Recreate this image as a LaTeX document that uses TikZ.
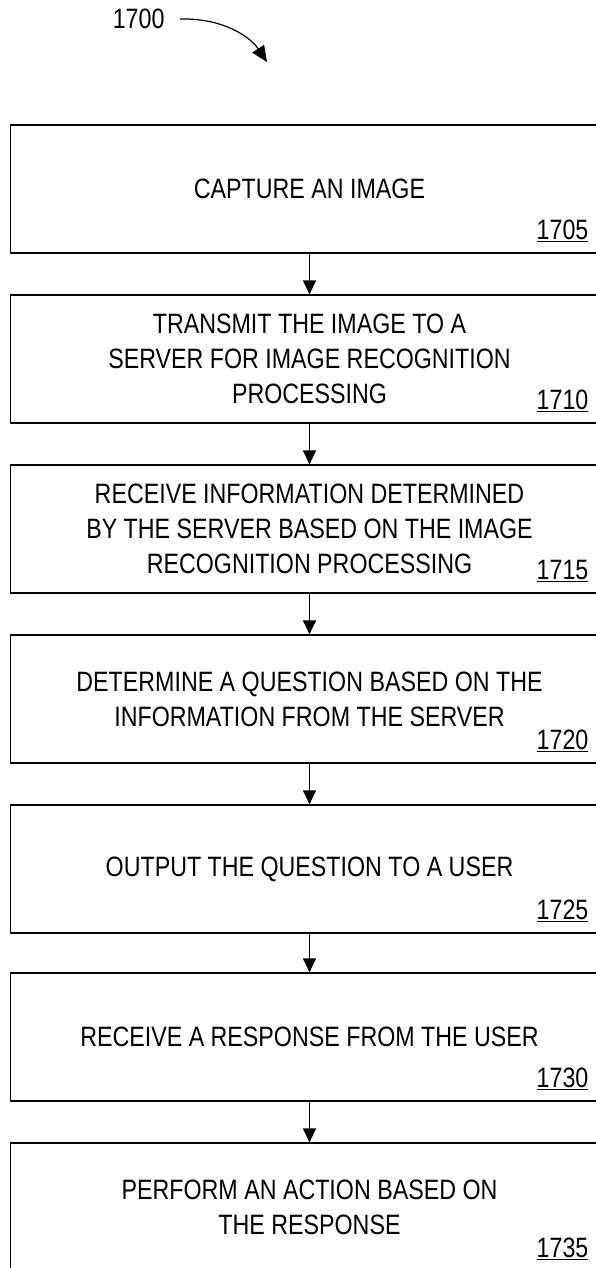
\documentclass[tikz,border=0pt]{standalone}
\usepackage{fontspec}
\setmainfont{Liberation Sans}[FakeStretch=0.83]
\usetikzlibrary{arrows.meta}

\begin{document}
\begin{tikzpicture}[x=1pt, y=1pt, line join=round, font=\fontsize{28}{35}\selectfont,
    hop/.style={draw, line width=1.2pt, minimum width=598pt, minimum height=128pt, align=center, inner sep=0pt},
    num/.style={anchor=base east, inner sep=0pt},
    >={Triangle[length=14pt,width=13pt]}]
    \clip (0,0) rectangle (596,-1268); % page = 596 x 1268
    \def\xm{309.5} \def\gx{-20.5} \def\gy{14} % box centre x, number offset
    \node[anchor=east] (fig) at (168,-19) {1700};
    \coordinate (tip) at (267,-62);
    \draw[-{Triangle[length=16pt,width=14pt]}, line width=1.2pt] ([xshift=12pt]fig.east) .. controls +(45,1) and +(-16,24) .. (tip);
    \node[hop] (s1) at (\xm,-189) {CAPTURE AN IMAGE};
    \node[hop] (s2) at (\xm,-359) {TRANSMIT THE IMAGE TO A\\SERVER FOR IMAGE RECOGNITION\\PROCESSING};
    \node[hop] (s3) at (\xm,-529) {RECEIVE INFORMATION DETERMINED\\BY THE SERVER BASED ON THE IMAGE\\RECOGNITION PROCESSING};
    \node[hop] (s4) at (\xm,-699) {DETERMINE A QUESTION BASED ON THE\\INFORMATION FROM THE SERVER};
    \node[hop] (s5) at (\xm,-869) {OUTPUT THE QUESTION TO A USER};
    \node[hop] (s6) at (\xm,-1037) {RECEIVE A RESPONSE FROM THE USER};
    \node[hop] (s7) at (\xm,-1207) {PERFORM AN ACTION BASED ON\\THE RESPONSE};
    \node[num] (n1) at ([xshift=\gx, yshift=\gy]s1.south east) {\underline{1705}};
    \node[num] (n2) at ([xshift=\gx, yshift=\gy]s2.south east) {\underline{1710}};
    \node[num] (n3) at ([xshift=\gx, yshift=\gy]s3.south east) {\underline{1715}};
    \node[num] (n4) at ([xshift=\gx, yshift=\gy]s4.south east) {\underline{1720}};
    \node[num] (n5) at ([xshift=\gx, yshift=\gy]s5.south east) {\underline{1725}};
    \node[num] (n6) at ([xshift=\gx, yshift=\gy]s6.south east) {\underline{1730}};
    \node[num] (n7) at ([xshift=\gx, yshift=\gy]s7.south east) {\underline{1735}};
    \draw[->, line width=1.2pt] (s1) -- (s2);
    \draw[->, line width=1.2pt] (s2) -- (s3);
    \draw[->, line width=1.2pt] (s3) -- (s4);
    \draw[->, line width=1.2pt] (s4) -- (s5);
    \draw[->, line width=1.2pt] (s5) -- (s6);
    \draw[->, line width=1.2pt] (s6) -- (s7);
\end{tikzpicture}
\end{document}
